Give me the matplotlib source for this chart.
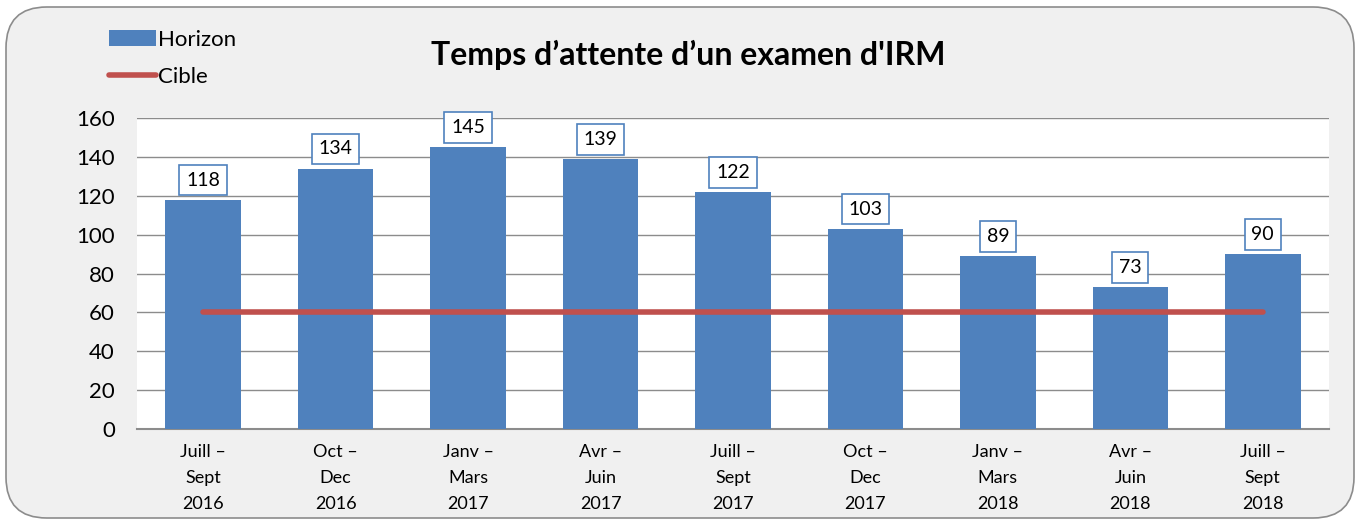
import matplotlib
matplotlib.use("Agg")
import matplotlib.pyplot as plt
from matplotlib.patches import FancyBboxPatch, Patch
from matplotlib.lines import Line2D

categories = ["Juill –\nSept\n2016", "Oct –\nDec\n2016", "Janv –\nMars\n2017", "Avr –\nJuin\n2017",
              "Juill –\nSept\n2017", "Oct –\nDec\n2017", "Janv –\nMars\n2018", "Avr –\nJuin\n2018",
              "Juill –\nSept\n2018"]
horizon = [118, 134, 145, 139, 122, 103, 89, 73, 90]
cible = [60] * 9
yticks = [0, 20, 40, 60, 80, 100, 120, 140, 160]

plt.rcParams['font.family'] = ['Lato', 'DejaVu Sans']

fig = plt.figure(figsize=(13.6, 5.25), dpi=100)
fig.patch.set_facecolor('white')
bg = FancyBboxPatch((6/1360, 7/525), 1348/1360, 511/525,
                    boxstyle="round,pad=0,rounding_size=0.03", transform=fig.transFigure,
                    facecolor='#F0F0F0', edgecolor='#8C8C8C', linewidth=1.2,
                    mutation_aspect=1360/525, zorder=-10)
fig.patches.append(bg)

ax = fig.add_axes([137/1360, 96/525, 1192/1360, 311/525])
ax.set_zorder(1)
ax.set_facecolor('white')
x = list(range(len(categories)))
bars = ax.bar(x, horizon, width=0.57, color='#4F81BD', zorder=3)
ax.plot(x, cible, color='#C0504D', linewidth=4, solid_capstyle='round', zorder=4)

ax.set_xlim(-0.5, len(categories) - 0.5)
ax.set_ylim(0, 160)
ax.set_yticks(yticks)
ax.set_yticklabels([str(v) for v in yticks], fontsize=16)
ax.set_xticks(x)
ax.set_xticklabels(categories, fontsize=13, linespacing=1.75)
ax.tick_params(axis='y', length=0, pad=16)
ax.tick_params(axis='x', length=0, pad=11)
ax.yaxis.grid(True, color='#8C8C8C', linewidth=1, zorder=0)
ax.set_axisbelow(True)
for s in ['left', 'right', 'top']:
    ax.spines[s].set_visible(False)
ax.spines['bottom'].set_color('#8C8C8C')
ax.spines['bottom'].set_linewidth(1.5)

for xi, v in zip(x, horizon):
    ax.annotate(str(v), (xi, v), xytext=(0, 8), textcoords='offset points',
                ha='center', va='bottom', fontsize=14, zorder=5,
                bbox=dict(boxstyle='square,pad=0.35', facecolor='white', edgecolor='#4F81BD', linewidth=1.2))

fig.text(688/1360, 1 - 55/525, "Temps d’attente d’un examen d'IRM", ha='center', va='center',
         fontsize=23, fontweight='bold')

handles = [Patch(facecolor='#4F81BD', edgecolor='none'),
           Line2D([0], [0], color='#C0504D', linewidth=4, solid_capstyle='round')]
fig.legend(handles, ['Horizon', 'Cible'], loc='upper left', bbox_to_anchor=(100/1360, 1 - 21/525),
           frameon=False, fontsize=16, handlelength=2.1, handletextpad=0.1, labelspacing=0.75,
           borderaxespad=0)

fig.savefig('out.png', dpi=100, facecolor='white')
